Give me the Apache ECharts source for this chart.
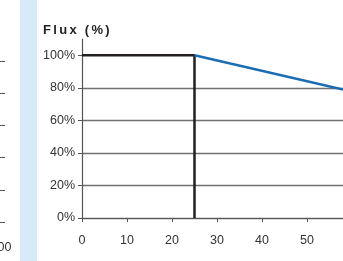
<!DOCTYPE html>
<html>
<head>
<meta charset="utf-8">
<script src="https://cdn.jsdelivr.net/npm/echarts@6/dist/echarts.min.js"></script>
<style>
  html, body { margin: 0; padding: 0; background: #fff; }
  #chart { width: 343px; height: 261px; position: relative; }
  #title {
    position: absolute; left: 43px; top: 22px;
    font: bold 13px "Liberation Sans", Arial, sans-serif;
    letter-spacing: 2.3px; color: #231f20;
  }
</style>
</head>
<body>
<div id="chart"></div>
<div id="title">Flux (%)</div>
<script>
// time (x) vs flux (%)
var fullFlux = [[0, 100], [25, 100], [25, 0]];
var fadeFlux = [[25, 100], [58, 79]];
var yTicks = [0, 20, 40, 60, 80, 100];

// neighbour chart fragment on the left (only its edge is visible)
var leftTicks = [0, 20, 40, 60, 80, 100];

var chart = echarts.init(document.getElementById('chart'));

var font = '"Liberation Sans", Arial, sans-serif';

chart.setOption({
  animation: false,
  graphic: [
    { type: 'rect', shape: { x: 20, y: 0, width: 17, height: 261 }, style: { fill: '#d6eaf8' }, z: -10 }
  ],
  grid: [
    { left: 82, right: -9, top: 39, bottom: 43, outerBoundsMode: 'none', containLabel: false },
    { left: -200, right: 338, top: 61, bottom: 39, outerBoundsMode: 'none', containLabel: false }
  ],
  xAxis: [
    {
      gridIndex: 0, type: 'value', min: 0, max: 60, interval: 10,
      axisLine: { lineStyle: { color: '#555', width: 1.2 } },
      axisTick: { length: 4, lineStyle: { color: '#555' } },
      axisLabel: { color: '#333', fontSize: 12.5, fontFamily: font, margin: 16 },
      splitLine: { show: false }
    },
    {
      gridIndex: 1, type: 'value', min: 0, max: 102, interval: 20,
      axisLine: { show: false }, axisTick: { show: false },
      axisLabel: { color: '#333', fontSize: 12.5, fontFamily: font, margin: 19,
        formatter: function (v) { return v % 20 === 0 ? String(v) : ''; } },
      splitLine: { show: false }
    }
  ],
  yAxis: [
    {
      gridIndex: 0, type: 'value', min: 0, max: 110, interval: 20,
      axisLine: { show: true, lineStyle: { color: '#555', width: 1.2 } },
      axisTick: { show: true, length: 4, lineStyle: { color: '#555' }, customValues: yTicks },
      axisLabel: { color: '#333', fontSize: 12.5, fontFamily: font, margin: 7,
        customValues: yTicks, formatter: '{value}%' },
      splitLine: { show: true, showMaxLine: false, lineStyle: { color: '#707070', width: 1.3 } }
    },
    {
      gridIndex: 1, type: 'value', min: 0, max: 100, interval: 20,
      axisLine: { show: false }, axisTick: { show: false }, axisLabel: { show: false },
      splitLine: { show: true, lineStyle: { color: '#555', width: 1 } }
    }
  ],
  series: [
    {
      type: 'line', xAxisIndex: 0, yAxisIndex: 0, data: fullFlux,
      symbol: 'none', lineStyle: { color: '#231f20', width: 2.5 }, z: 3
    },
    {
      type: 'line', xAxisIndex: 0, yAxisIndex: 0, data: fadeFlux,
      symbol: 'none', lineStyle: { color: '#1a6db4', width: 2.5 }, z: 4
    }
  ]
});
</script>
</body>
</html>
